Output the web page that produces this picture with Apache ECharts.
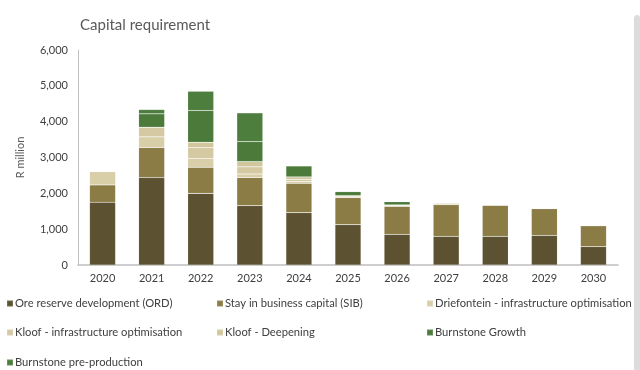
<!DOCTYPE html>
<html>
<head>
<meta charset="utf-8">
<script src="https://cdn.jsdelivr.net/npm/echarts@6/dist/echarts.min.js"></script>
<style>html,body{margin:0;padding:0;background:#fff;}#c{width:640px;height:370px;}</style>
</head>
<body>
<div id="c"></div>
<script>
const categories = ['2020','2021','2022','2023','2024','2025','2026','2027','2028','2029','2030'];
const ord      = [1750, 2440, 2000, 1656, 1461, 1126, 855, 800, 800, 827, 511];
const sib      = [485, 837, 726, 784, 818, 754, 782, 884, 865, 746, 587];
const drieInfra  = [370, 300, 250, 100, 50, 0, 0, 0, 0, 0, 0];
const kloofInfra = [0, 267, 300, 200, 60, 26, 20, 36, 20, 0, 0];
const kloofDeep  = [0, 0, 149, 145, 69, 30, 20, 20, 0, 0, 0];
const bGrowth    = [0, 375, 885, 559, 307, 112, 90, 0, 0, 0, 0];
const bPreProd   = [0, 120, 539, 802, 0, 0, 0, 0, 0, 0, 0];
const yTicks = [0, 1000, 2000, 3000, 4000, 5000, 6000];

const names = ['Ore reserve development (ORD)','Stay in business capital (SIB)','Driefontein - infrastructure optimisation','Kloof - infrastructure optimisation','Kloof - Deepening','Burnstone Growth','Burnstone pre-production'];
const colors = ['#5C5231','#8B7C45','#D8CEA8','#D4C9A2','#D1C69C','#4B7A3B','#4E7E3E'];
const datas = [ord, sib, drieInfra, kloofInfra, kloofDeep, bGrowth, bPreProd];
const FONT = 'Lato';

const series = names.map((n,i)=>({
  name:n, type:'bar', stack:'total', barWidth:26,
  itemStyle:{color:colors[i], borderColor:'rgba(255,255,255,0.15)', borderWidth:0.6},
  data: datas[i]
}));

// legend positions (column x, row y)
const legPos = [[6,298],[216,298],[426,298],[6,327],[216,327],[426,327],[6,357]];
const legends = names.map((n,i)=>({
  left:legPos[i][0], top:legPos[i][1], padding:0, itemWidth:6, itemHeight:6,
  icon:'rect', data:[n],
  textStyle:{fontFamily:FONT, fontSize:11.2, color:'#404040', padding:[0,0,0,-3]}
}));

const chart = echarts.init(document.getElementById('c'));
chart.setOption({
  animation:false,
  color: colors,
  title:{text:'Capital requirement', left:75, top:13, textStyle:{fontFamily:FONT, fontSize:15, fontWeight:'normal', color:'#595959'}},
  legend: legends,
  grid:{left:78, right:22, top:50, bottom:105},
  xAxis:{type:'category', data:categories,
    axisLine:{lineStyle:{color:'#BFBFBF', width:1.5}}, axisTick:{show:false},
    axisLabel:{fontFamily:FONT, fontSize:11, color:'#404040', margin:8}},
  yAxis:{type:'value', min:0, max:6000, interval:1000,
    name:'R million', nameLocation:'middle', nameGap:52,
    nameTextStyle:{fontFamily:FONT, fontSize:11, color:'#595959'},
    axisLine:{show:true, lineStyle:{color:'#BFBFBF'}}, axisTick:{show:false},
    splitLine:{show:false},
    axisLabel:{fontFamily:FONT, fontSize:11, color:'#404040', margin:10,
      formatter:v=> yTicks.includes(v) ? v.toLocaleString('en-US') : ''}},
  graphic:[{type:'rect', shape:{x:634, y:15, width:6, height:360, r:[3,3,0,0]}, style:{fill:'#DCDCDC'}}],
  series: series
});
</script>
</body>
</html>
